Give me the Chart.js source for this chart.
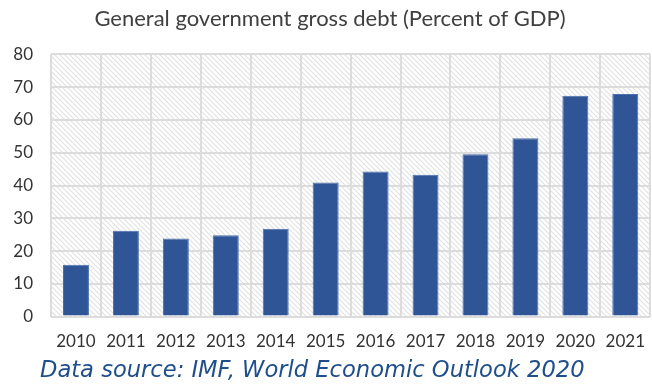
<!DOCTYPE html>
<html>
<head>
<meta charset="utf-8">
<script src="https://cdn.jsdelivr.net/npm/chart.js@4"></script>
<style>
  html, body { margin: 0; padding: 0; background: #fff; overflow: hidden; }
  #wrap { width: 660px; height: 387px; }
</style>
</head>
<body>
<div id="wrap"><canvas id="debtChart"></canvas></div>
<script>
// General government gross debt, percent of GDP
const years = ['2010', '2011', '2012', '2013', '2014', '2015', '2016', '2017', '2018', '2019', '2020', '2021'];
const debtPct = [15.8, 26.2, 23.8, 24.8, 26.8, 40.9, 44.3, 43.3, 49.5, 54.4, 67.4, 67.9];
const yTicks = [0, 10, 20, 30, 40, 50, 60, 70, 80];
const sourceNote = 'Data source: IMF, World Economic Outlook 2020';

// diagonal hatch fill behind the plot area
function makeHatch() {
    const n = 5;
    const c = document.createElement('canvas');
    c.width = n; c.height = n;
    const g = c.getContext('2d');
    g.fillStyle = '#ffffff';
    g.fillRect(0, 0, n, n);
    g.strokeStyle = '#e2e2e2';
    g.lineWidth = 1.2;
    g.beginPath();
    g.moveTo(-1, -1); g.lineTo(n + 1, n + 1);
    g.moveTo(-1, n - 1); g.lineTo(1, n + 1);
    g.moveTo(n - 1, -1); g.lineTo(n + 1, 1);
    g.stroke();
    return g.createPattern(c, 'repeat');
}

const hatchBg = {
    id: 'hatchBg',
    beforeDraw(chart) {
        const a = chart.chartArea;
        const ctx = chart.ctx;
        ctx.save();
        ctx.fillStyle = makeHatch();
        ctx.fillRect(a.left, a.top, a.right - a.left, a.bottom - a.top);
        ctx.restore();
    }
};

// source line under the axis
const sourceText = {
    id: 'sourceText',
    afterDraw(chart) {
        const ctx = chart.ctx;
        ctx.save();
        ctx.font = 'italic 22.6px "DejaVu Sans"';
        ctx.fillStyle = '#1F4E8C';
        ctx.textBaseline = 'middle';
        ctx.textAlign = 'left';
        ctx.fillText(sourceNote, 40, 371);
        ctx.restore();
    }
};

const ctx = document.getElementById('debtChart').getContext('2d');
new Chart(ctx, {
    type: 'bar',
    data: {
        labels: years,
        datasets: [{
            data: debtPct,
            backgroundColor: '#2F5597',
            borderColor: '#4a6faa',
            borderWidth: 1,
            barPercentage: 0.52,
            categoryPercentage: 1
        }]
    },
    options: {
        responsive: true,
        maintainAspectRatio: false,
        animation: false,
        layout: { padding: { left: 0, right: 0, top: 0, bottom: 20 } },
        plugins: {
            legend: { display: false },
            tooltip: { enabled: false },
            title: {
                display: true,
                text: 'General government gross debt (Percent of GDP)',
                color: '#404040',
                font: { family: 'Lato', size: 22, weight: 'normal' },
                padding: { top: 6, bottom: 22 }
            }
        },
        scales: {
            x: {
                grid: { color: '#dcdcdc', lineWidth: 2, offset: true, drawTicks: false },
                border: { display: false },
                ticks: {
                    color: '#333333',
                    font: { family: 'Lato', size: 17 },
                    padding: 15
                }
            },
            y: {
                min: 0,
                max: 80,
                afterBuildTicks(axis) { axis.ticks = yTicks.map(v => ({ value: v })); },
                afterFit(axis) { axis.width = 51; },
                grid: { color: '#dcdcdc', lineWidth: 2, drawTicks: false },
                border: { display: false },
                ticks: {
                    color: '#333333',
                    font: { family: 'Lato', size: 17 },
                    padding: 18
                }
            }
        }
    },
    plugins: [hatchBg, sourceText]
});
</script>
</body>
</html>
